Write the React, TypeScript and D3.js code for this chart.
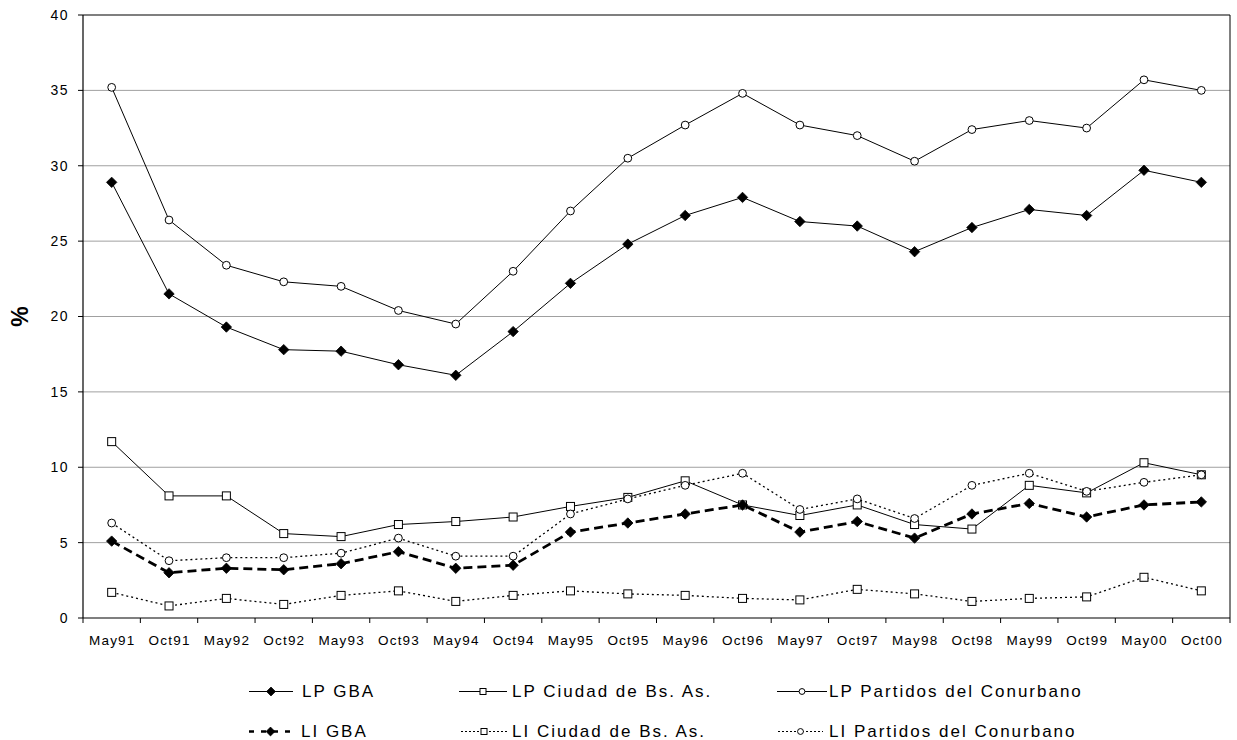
import React from "react";
import * as d3 from "d3";

const categories = ["May91","Oct91","May92","Oct92","May93","Oct93","May94","Oct94","May95","Oct95","May96","Oct96","May97","Oct97","May98","Oct98","May99","Oct99","May00","Oct00"];
const lpGBA = [28.9,21.5,19.3,17.8,17.7,16.8,16.1,19.0,22.2,24.8,26.7,27.9,26.3,26.0,24.3,25.9,27.1,26.7,29.7,28.9];
const lpCiudad = [11.7,8.1,8.1,5.6,5.4,6.2,6.4,6.7,7.4,8.0,9.1,7.5,6.8,7.5,6.2,5.9,8.8,8.3,10.3,9.5];
const lpPartidos = [35.2,26.4,23.4,22.3,22.0,20.4,19.5,23.0,27.0,30.5,32.7,34.8,32.7,32.0,30.3,32.4,33.0,32.5,35.7,35.0];
const liGBA = [5.1,3.0,3.3,3.2,3.6,4.4,3.3,3.5,5.7,6.3,6.9,7.5,5.7,6.4,5.3,6.9,7.6,6.7,7.5,7.7];
const liCiudad = [1.7,0.8,1.3,0.9,1.5,1.8,1.1,1.5,1.8,1.6,1.5,1.3,1.2,1.9,1.6,1.1,1.3,1.4,2.7,1.8];
const liPartidos = [6.3,3.8,4.0,4.0,4.3,5.3,4.1,4.1,6.9,7.9,8.8,9.6,7.2,7.9,6.6,8.8,9.6,8.4,9.0,9.5];
const yTicks = [0,5,10,15,20,25,30,35,40];

type Marker = "diamond" | "square" | "circle";
interface Series { name: string; values: number[]; marker: Marker; dash: string | null; width: number; }

const series: Series[] = [
  { name: "LP GBA", values: lpGBA, marker: "diamond", dash: null, width: 1 },
  { name: "LP Ciudad de Bs. As.", values: lpCiudad, marker: "square", dash: null, width: 1 },
  { name: "LP Partidos del Conurbano", values: lpPartidos, marker: "circle", dash: null, width: 1 },
  { name: "LI GBA", values: liGBA, marker: "diamond", dash: "9,5", width: 2.8 },
  { name: "LI Ciudad de Bs. As.", values: liCiudad, marker: "square", dash: "2,3", width: 1.3 },
  { name: "LI Partidos del Conurbano", values: liPartidos, marker: "circle", dash: "2,3", width: 1.3 },
];

const L = 83, R = 1230, T = 15, B = 618;
// legend layout: [lineStart, lineEnd, textStart] per item
const legendPos = [
  [249, 293, 302], [459, 507, 512], [777, 827, 829],
  [249, 292, 301], [461, 507, 512], [778, 823, 829],
];
const legendRows = [691.5, 731.5];

function MarkerShape({ type, x, y, s }: { type: Marker; x: number; y: number; s: number }) {
  if (type === "diamond") {
    const h = 5.2 * s;
    return <path d={`M${x},${y - h}L${x + h},${y}L${x},${y + h}L${x - h},${y}Z`} fill="#000" stroke="#000" strokeWidth={0.8} />;
  }
  if (type === "square") {
    const h = 4 * s;
    return <rect x={x - h} y={y - h} width={2 * h} height={2 * h} fill="#fff" stroke="#000" strokeWidth={1} />;
  }
  return <circle cx={x} cy={y} r={3.9 * s} fill="#fff" stroke="#000" strokeWidth={1} />;
}

export default function App() {
  const x = d3.scaleBand<string>().domain(categories).range([L, R]);
  const y = d3.scaleLinear().domain([0, 40]).range([B, T]);
  const cx = (c: string) => (x(c) as number) + x.bandwidth() / 2;
  const line = d3.line<number>().x((_, i) => cx(categories[i])).y((v) => y(v));

  return (
    <svg width={1237} height={740} style={{ position: "absolute", left: 0, top: 0, fontFamily: "'Liberation Sans', Arial, sans-serif" }}>
      <rect width={1237} height={740} fill="#fff" />
      {yTicks.filter((t) => t > 0 && t < 40).map((t) => (
        <line key={t} x1={L} x2={R} y1={y(t)} y2={y(t)} stroke="#a0a0a0" strokeWidth={1} />
      ))}
      <line x1={L} x2={R} y1={T} y2={T} stroke="#555" strokeWidth={1.5} />
      <line x1={R} x2={R} y1={T} y2={B} stroke="#000" strokeWidth={1} />
      <line x1={L} x2={L} y1={T} y2={B} stroke="#000" strokeWidth={1.2} />
      <line x1={L} x2={R} y1={B} y2={B} stroke="#000" strokeWidth={1.2} />
      {yTicks.map((t) => (
        <g key={t}>
          <line x1={L - 5} x2={L} y1={y(t)} y2={y(t)} stroke="#000" />
          <text x={L - 14} y={y(t)} dy="0.35em" textAnchor="end" fontSize={14} letterSpacing={1.5}>{t}</text>
        </g>
      ))}
      {categories.map((c) => (
        <g key={c}>
          <line x1={(x(c) as number)} x2={(x(c) as number)} y1={B} y2={B + 5} stroke="#000" />
          <text x={cx(c) + 0.6} y={B + 27} textAnchor="middle" fontSize={13.5} letterSpacing={1.2}>{c}</text>
        </g>
      ))}
      <line x1={R} x2={R} y1={B} y2={B + 5} stroke="#000" />
      <text transform={`translate(28,${(T + B) / 2}) rotate(-90)`} textAnchor="middle" fontSize={23} fontWeight="bold">%</text>
      {series.map((s) => (
        <g key={s.name}>
          <path d={line(s.values) || ""} fill="none" stroke="#000" strokeWidth={s.width} strokeDasharray={s.dash || undefined} />
          {s.values.map((v, i) => (
            <MarkerShape key={i} type={s.marker} x={cx(categories[i])} y={y(v)} s={1} />
          ))}
        </g>
      ))}
      {series.map((s, k) => {
        const [x1, x2, tx] = legendPos[k];
        const ly = legendRows[Math.floor(k / 3)];
        const thick = s.marker === "diamond" && s.dash;
        return (
          <g key={s.name}>
            <line x1={x1} x2={x2} y1={ly} y2={ly} stroke="#000" strokeWidth={thick ? 2.6 : 1} strokeDasharray={s.dash ? (thick ? "5,7" : "2,2") : undefined} />
            <MarkerShape type={s.marker} x={(x1 + x2) / 2} y={ly} s={thick || s.marker === "diamond" ? 0.85 : 0.75} />
            <text x={tx} y={ly} dy="0.35em" fontSize={17} letterSpacing={2}>{s.name}</text>
          </g>
        );
      })}
    </svg>
  );
}
